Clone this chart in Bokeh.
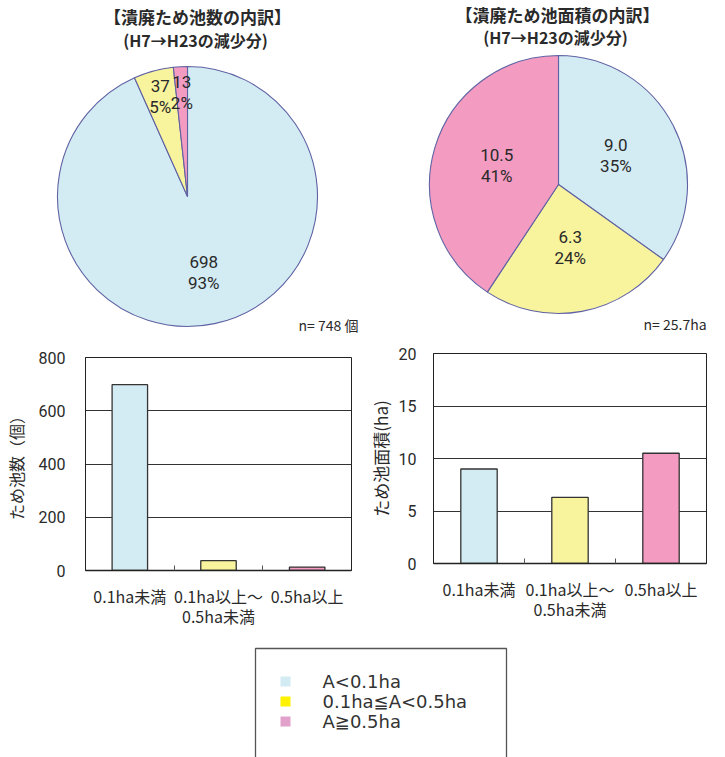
import math

from bokeh.core.properties import value
from bokeh.embed import file_html
from bokeh.layouts import column, row
from bokeh.models import ColumnDataSource, FixedTicker, Label, Range1d, Spacer
from bokeh.plotting import figure
from bokeh.resources import INLINE

# ---- data -------------------------------------------------------------
classes = ["0.1ha未満", "0.1ha以上～\n0.5ha未満", "0.5ha以上"]
legend_labels = ["A<0.1ha", "0.1ha≦A<0.5ha", "A≧0.5ha"]
pond_counts = [698, 37, 13]
count_pct = ["93%", "5%", "2%"]
pond_area = [9.0, 6.3, 10.5]
area_pct = ["35%", "24%", "41%"]
count_ticks = [0, 200, 400, 600, 800]
area_ticks = [0, 5, 10, 15, 20]
count_total = "n= 748 個"
area_total = "n= 25.7ha"

# ---- styling ----------------------------------------------------------
FILLS = ["#d3ebf3", "#f8f39d", "#f39bc1"]
SWATCHES = ["#d3ebf3", "#fff200", "#e2a1ca"]
PIE_EDGE = "#5f62a3"
INK = "#2a2a2a"
JP = "Noto Sans CJK JP"
NUM = "Roboto"


def bare_canvas(w, h, flip=False):
    yr = Range1d(h, 0) if flip else Range1d(0, h)
    p = figure(width=w, height=h, x_range=Range1d(0, w), y_range=yr,
               x_axis_location=None, y_axis_location=None,
               toolbar_location=None, output_backend="svg", min_border=0)
    p.outline_line_color = None
    p.grid.visible = False
    p.background_fill_color = "white"
    p.border_fill_color = "white"
    return p


def pie_panel(values, pct, fmt, w, h, cx, cy, r, label_r, titles, total_txt, total_xy):
    p = bare_canvas(w, h)
    tot = sum(values)
    starts, ends, lx, ly, texts = [], [], [], [], []
    a = math.pi / 2
    for v, pc, f in zip(values, pct, label_r):
        span = 2 * math.pi * v / tot
        starts.append(a - span)
        ends.append(a)
        mid = a - span / 2
        lx.append(cx + f * r * math.cos(mid))
        ly.append(cy + f * r * math.sin(mid))
        texts.append(fmt(v) + "\n" + pc)
        a -= span
    src = ColumnDataSource(dict(start=starts, end=ends, color=FILLS[:len(values)]))
    p.wedge(x=cx, y=cy, radius=r, start_angle="start", end_angle="end",
            direction="anticlock", fill_color="color", line_color=PIE_EDGE,
            line_width=1.1, source=src)
    p.text(x=lx, y=ly, text=texts, text_align="center", text_baseline="middle",
           text_font=value(NUM), text_font_size="17px", text_color=INK,
           text_line_height=1.05)
    for (tx, ty, txt, size) in titles:
        p.add_layout(Label(x=tx, y=h - ty, text=txt, text_align="center",
                           text_baseline="middle", text_font=JP,
                           text_font_size=size, text_font_style="bold",
                           text_color=INK))
    p.add_layout(Label(x=total_xy[0], y=h - total_xy[1], text=total_txt,
                       text_align="left", text_baseline="middle", text_font=JP,
                       text_font_size="14px", text_color=INK))
    return p


def bar_panel(values, ticks, frame, borders, ylabel, tick_standoff,
              label_standoff, label_size):
    left, right, top, bottom = borders
    p = figure(frame_width=frame[0], frame_height=frame[1],
               x_range=Range1d(0, len(values)),
               y_range=Range1d(ticks[0], ticks[-1]), toolbar_location=None,
               output_backend="svg", min_border_left=left,
               min_border_right=right, min_border_top=top,
               min_border_bottom=bottom)
    p.background_fill_color = "white"
    p.border_fill_color = "white"
    p.outline_line_color = "#222222"
    p.outline_line_width = 1

    xs = [i + 0.5 for i in range(len(values))]
    p.vbar(x=xs, top=values, bottom=0, width=0.4, fill_color=FILLS,
           line_color="#333333", line_width=1.3)

    xa = p.xaxis[0]
    xa.ticker = FixedTicker(ticks=xs, minor_ticks=list(range(1, len(values))))
    xa.major_label_overrides = {x: c for x, c in zip(xs, classes)}
    xa.major_tick_in = 0
    xa.major_tick_out = 0
    xa.minor_tick_in = 5
    xa.minor_tick_out = 0
    xa.minor_tick_line_color = "#555555"
    xa.axis_line_color = "#222222"
    xa.axis_line_width = 1.5
    xa.major_label_standoff = 13
    xa.major_label_text_font = JP
    xa.major_label_text_font_size = "16px"
    xa.major_label_text_line_height = 0.87
    xa.major_label_text_color = INK

    ya = p.yaxis[0]
    ya.ticker = FixedTicker(ticks=ticks)
    ya.major_tick_in = 0
    ya.major_tick_out = 0
    ya.axis_line_color = "#222222"
    ya.major_label_standoff = tick_standoff
    ya.major_label_text_font = NUM
    ya.major_label_text_font_size = "16px"
    ya.major_label_text_color = INK
    ya.axis_label = ylabel
    ya.axis_label_standoff = label_standoff
    ya.axis_label_text_font = JP
    ya.axis_label_text_font_size = label_size
    ya.axis_label_text_font_style = "normal"
    ya.axis_label_text_color = INK

    p.xgrid.visible = False
    p.ygrid.grid_line_color = "#333333"
    p.ygrid.grid_line_width = 1
    return p


pie_count = pie_panel(
    pond_counts, count_pct, lambda v: f"{v}", 362, 340, 187, 144, 130,
    [0.6, 0.8, 0.8],
    [(197, 16, "【潰廃ため池数の内訳】", "17px"),
     (195, 39, "(H7→H23の減少分)", "16px")],
    count_total, (298, 324))

pie_area = pie_panel(
    pond_area, area_pct, lambda v: f"{v:.1f}", 363, 340, 196, 156, 129,
    [0.5, 0.5, 0.5],
    [(195, 14, "【潰廃ため池面積の内訳】", "17px"),
     (193, 36, "(H7→H23の減少分)", "16px")],
    area_total, (281, 323))

# both bar panels share a 13px top border; the count panel sits 4px lower
bar_count = bar_panel(pond_counts, count_ticks, (266, 213), (83, 13, 13, 70),
                      "ため池数（個）", 20, 8, "16px")
bar_area = bar_panel(pond_area, area_ticks, (273, 210), (67, 23, 13, 77),
                     "ため池面積(ha)", 17, 3, "17px")

# ---- legend panel -----------------------------------------------------
leg = bare_canvas(725, 117, flip=True)
leg.quad(left=255, right=506, top=8, bottom=200, fill_color=None,
         line_color="#555555", line_width=1.3)
ys = [41 + 20 * i for i in range(len(legend_labels))]
leg.scatter(x=285, y=ys, marker="square", size=10, fill_color=SWATCHES,
            line_color=None)
leg.text(x=322, y=ys, text=legend_labels, text_baseline="middle",
         text_align="left", text_font=value("DejaVu Sans"),
         text_font_size="18px", text_color="#333333")

layout = column(
    row(pie_count, pie_area),
    row(column(Spacer(width=362, height=4), bar_count), column(bar_area)),
    leg,
)

with open("out.html", "w") as fh:
    fh.write(file_html(layout, INLINE))
